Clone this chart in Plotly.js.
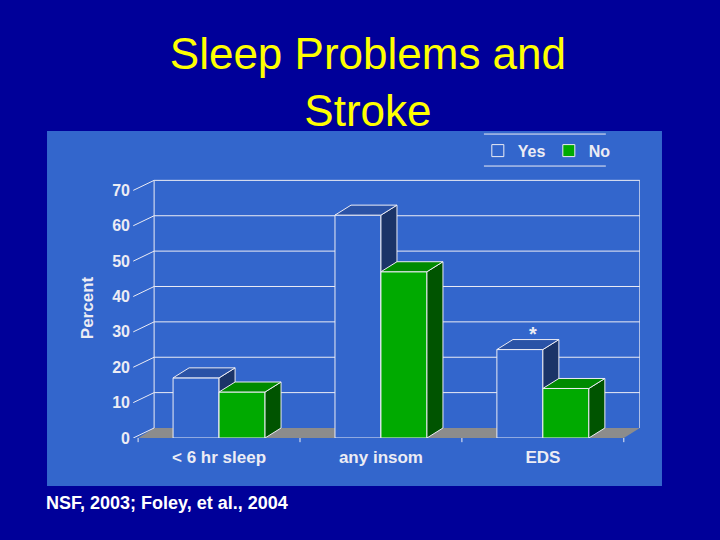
<!DOCTYPE html>
<html>
<head>
<meta charset="utf-8">
<script src="https://cdn.plot.ly/plotly-3.0.1.min.js"></script>
<style>
  html, body { margin: 0; padding: 0; background: #000099; }
  #chart { width: 720px; height: 540px; }
</style>
</head>
<body>
<div id="chart"></div>
<script>
// values
let categories = ["< 6 hr sleep", "any insom", "EDS"];
let yesValues = [17, 63, 25];
let noValues = [13, 47, 14];
let yesMarks = ["", "", "*"];
let yTicks = [0, 10, 20, 30, 40, 50, 60, 70];

// fake 3D: bar width and depth, in axis units
const barWidth = 0.284;
const depthX = 0.099;
const depthY = 2.83;
const wallLeft = -0.5;
const wallRight = categories.length - 0.5;
const yMax = 70;

const font = "Liberation Sans, Arial, sans-serif";
const lineColor = "#ECECF4";

//top and side faces of one series, one polygon per bar
function buildFaces(values, offset, topColor, sideColor, xa, ya)
{
  let top = {x: [], y: []};
  let side = {x: [], y: []};

  values.forEach(function(v, i)
  {
    let x0 = i + offset;
    let x1 = x0 + barWidth;
    top.x.push(x0, x0 + depthX, x1 + depthX, x1, x0, null);
    top.y.push(v, v + depthY, v + depthY, v, v, null);
    side.x.push(x1, x1 + depthX, x1 + depthX, x1, x1, null);
    side.y.push(0, depthY, v + depthY, v, 0, null);
  });

  let faceStyle = function(pts, color)
  {
    return {
      type: "scatter", mode: "lines", x: pts.x, y: pts.y,
      xaxis: xa, yaxis: ya,
      fill: "toself", fillcolor: color,
      line: {color: lineColor, width: 1},
      hoverinfo: "skip", showlegend: false
    };
  };

  return [faceStyle(side, sideColor), faceStyle(top, topColor)];
}

let xPos = categories.map(function(c, i) { return i; });

let yesBar =
{
  type: "bar", name: "Yes", x: xPos, y: yesValues,
  width: barWidth, offset: -barWidth,
  marker: {color: "#3366CC", line: {color: lineColor, width: 1}},
  xaxis: "x", yaxis: "y", hoverinfo: "skip"
};

let noBar =
{
  type: "bar", name: "No", x: xPos, y: noValues,
  width: barWidth, offset: 0,
  marker: {color: "#00AA00", line: {color: lineColor, width: 1}},
  xaxis: "x2", yaxis: "y2", hoverinfo: "skip"
};

// "No" lives on an overlaid subplot so its bars cover the "Yes" side faces
let data = [yesBar]
  .concat(buildFaces(yesValues, -barWidth, "#2A52A6", "#1B3468", "x", "y"))
  .concat([noBar])
  .concat(buildFaces(noValues, 0, "#008A00", "#005400", "x2", "y2"));

let shapes = [];

// light blue panel behind the chart
shapes.push({
  type: "rect", xref: "paper", yref: "paper",
  x0: -0.1627, x1: 1.0431, y0: -0.1846, y1: 1.181,
  fillcolor: "#3366CC", line: {width: 0}, layer: "below"
});

// floor
shapes.push({
  type: "path", xref: "x", yref: "y", layer: "below",
  path: "M" + wallLeft + ",0 L" + wallRight + ",0 L" + (wallRight + depthX) + "," + depthY +
        " L" + (wallLeft + depthX) + "," + depthY + " Z",
  fillcolor: "#8C8C8C", line: {width: 0}
});

// back wall grid and slanted ticks
yTicks.forEach(function(t)
{
  if(t > 0)
  {
    shapes.push({
      type: "line", xref: "x", yref: "y", layer: "below",
      x0: wallLeft + depthX, x1: wallRight + depthX, y0: t + depthY, y1: t + depthY,
      line: {color: lineColor, width: 1}
    });
  }
  shapes.push({
    type: "line", xref: "x", yref: "y", layer: "below",
    x0: wallLeft - 0.03, x1: wallLeft + depthX, y0: t, y1: t + depthY,
    line: {color: lineColor, width: 1}
  });
});

// wall edges
[wallLeft, wallRight].forEach(function(x)
{
  shapes.push({
    type: "line", xref: "x", yref: "y", layer: "below",
    x0: x + depthX, x1: x + depthX, y0: depthY, y1: yMax + depthY,
    line: {color: lineColor, width: 1}
  });
});

// small ticks between categories under the floor
for(let i = 0; i <= categories.length; i++)
{
  shapes.push({
    type: "line", xref: "x", yref: "paper",
    x0: i - 0.5, x1: i - 0.5, y0: 0, y1: -0.016,
    line: {color: lineColor, width: 1}
  });
}

// legend rules above and below
[1.169, 1.046].forEach(function(y)
{
  shapes.push({
    type: "line", xref: "paper", yref: "paper",
    x0: 0.694, x1: 0.933, y0: y, y1: y,
    line: {color: lineColor, width: 1}
  });
});

let annotations = [];

yesMarks.forEach(function(m, i)
{
  if(m !== "")
  {
    annotations.push({
      x: i - barWidth / 2 + depthX * 0.8, y: yesValues[i] + depthY,
      xref: "x", yref: "y", text: m, showarrow: false,
      yanchor: "bottom", yshift: -7,
      font: {family: font, size: 20, color: lineColor, weight: "bold"}
    });
  }
});

annotations.push({
  xref: "paper", yref: "paper", x: -0.169, y: -0.25,
  xanchor: "left", yanchor: "middle", showarrow: false,
  text: "NSF, 2003; Foley, et al., 2004",
  font: {family: font, size: 18, color: "#FFFFFF", weight: "bold"}
});

let axisRange = [-0.55, 2.6];
let yRange = [0, 73.5];

let layout =
{
  width: 720,
  height: 540,
  margin: {l: 130, r: 80, t: 178, b: 102},
  paper_bgcolor: "#000099",
  plot_bgcolor: "rgba(0,0,0,0)",
  title:
  {
    text: "Sleep Problems and<br>Stroke",
    font: {family: font, size: 44, color: "#FFFF00"},
    xref: "container", yref: "container",
    x: 0.511, y: 0.873, yanchor: "middle"
  },
  xaxis:
  {
    range: axisRange, autorange: false,
    tickmode: "array", tickvals: xPos, ticktext: categories,
    ticks: "", showgrid: false, zeroline: false, showline: false,
    ticklabelstandoff: 7,
    tickfont: {family: font, size: 17, color: lineColor, weight: "bold"},
    fixedrange: true
  },
  yaxis:
  {
    range: yRange, autorange: false,
    tickmode: "array", tickvals: yTicks,
    ticks: "", showgrid: false, zeroline: false, showline: false,
    ticklabelstandoff: -1,
    tickfont: {family: font, size: 16, color: lineColor, weight: "bold"},
    title: {text: "Percent", standoff: 14, font: {family: font, size: 17, color: lineColor, weight: "bold"}},
    fixedrange: true
  },
  xaxis2: {overlaying: "x", range: axisRange, autorange: false, visible: false, fixedrange: true},
  yaxis2: {overlaying: "y", range: yRange, autorange: false, visible: false, fixedrange: true},
  barmode: "overlay",
  showlegend: true,
  legend:
  {
    orientation: "h", x: 0.682, y: 1.105, xanchor: "left", yanchor: "middle",
    bgcolor: "rgba(0,0,0,0)", borderwidth: 0,
    entrywidth: 26, entrywidthmode: "pixels",
    font: {family: font, size: 16, color: lineColor, weight: "bold"},
    traceorder: "normal"
  },
  shapes: shapes,
  annotations: annotations,
  hovermode: false
};

Plotly.newPlot("chart", data, layout, {displayModeBar: false, staticPlot: true});
</script>
</body>
</html>
